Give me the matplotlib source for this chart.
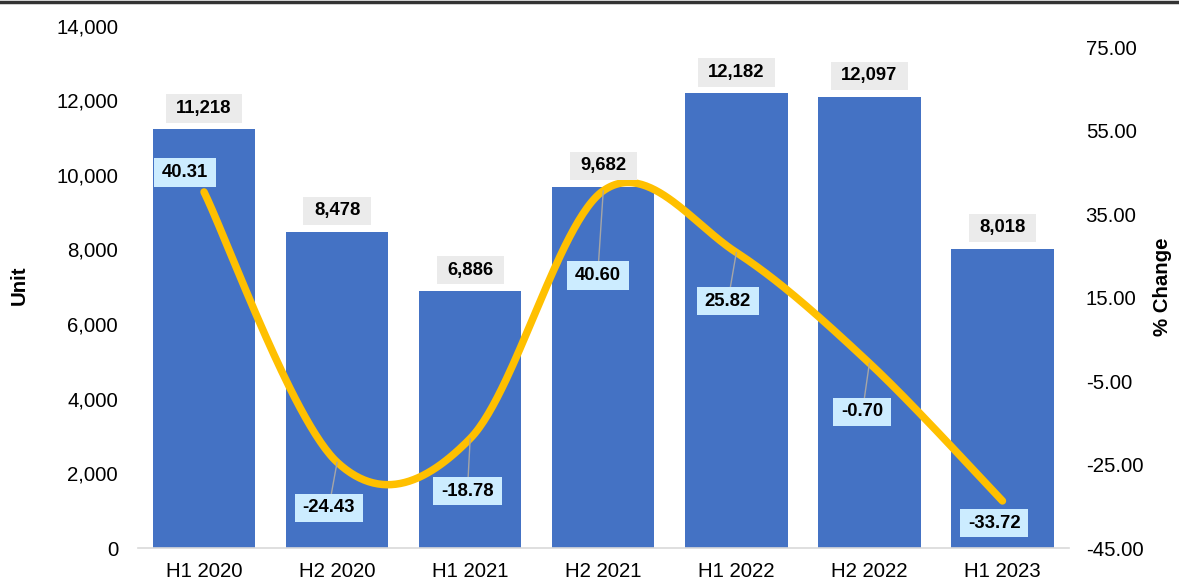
import matplotlib
matplotlib.use("Agg")
import matplotlib.pyplot as plt
import numpy as np
from matplotlib.ticker import FuncFormatter, FixedLocator
from matplotlib.lines import Line2D
from matplotlib.path import Path

periods = ["H1 2020", "H2 2020", "H1 2021", "H2 2021", "H1 2022", "H2 2022", "H1 2023"]
units = [11218, 8478, 6886, 9682, 12182, 12097, 8018]
pct_change = [40.31, -24.43, -18.78, 40.60, 25.82, -0.70, -33.72]
unit_ticks = [0, 2000, 4000, 6000, 8000, 10000, 12000, 14000]
pct_ticks = [-45, -25, -5, 15, 35, 55, 75]

# label offsets (points) and whether a leader line is drawn
pct_offsets = [(-14, 14), (-6, -33), (-2, -38), (-4, -61), (-6, -35), (-5, -35), (-6, -16)]
pct_leaders = [False, True, True, True, True, True, False]

plt.rcParams['font.family'] = ['Liberation Sans', 'DejaVu Sans']

TICK_FS = 14.7
LABEL_FS = 13.3


def rect_box(padx, pady):
    """Rectangular label box with separate horizontal and vertical padding."""
    def style(x0, y0, width, height, mutation_size):
        px, py = padx * mutation_size, pady * mutation_size
        x0, y0 = x0 - px, y0 - py
        x1, y1 = x0 + width + 2 * px, y0 + height + 2 * py
        return Path([(x0, y0), (x1, y0), (x1, y1), (x0, y1), (x0, y0)], closed=True)
    return style


W, H = 1179, 585
fig = plt.figure(figsize=(W / 100, H / 100), dpi=100)
ax = fig.add_axes([137.5 / W, 37 / H, 931.5 / W, 522.5 / H])

x = np.arange(len(periods))
ax.bar(x, units, width=0.77, color='#4472C4', zorder=2)
ax.set_xlim(-0.5, len(periods) - 0.5)
ax.set_ylim(0, 14000)
ax.yaxis.set_major_locator(FixedLocator(unit_ticks))
ax.yaxis.set_major_formatter(FuncFormatter(lambda v, p: f"{v:,.0f}"))
ax.set_xticks(x)
ax.set_xticklabels(periods)
ax.tick_params(axis='both', length=0, labelsize=TICK_FS, colors='black')
ax.tick_params(axis='y', pad=14)
ax.tick_params(axis='x', pad=10)
for s in ['top', 'left', 'right']:
    ax.spines[s].set_visible(False)
ax.spines['bottom'].set_color('#D9D9D9')
ax.spines['bottom'].set_linewidth(1.2)

ax2 = ax.twinx()
ax2.set_ylim(-45, 80.2)
ax2.yaxis.set_major_locator(FixedLocator(pct_ticks))
ax2.yaxis.set_major_formatter(FuncFormatter(lambda v, p: f"{v:.2f}"))
ax2.tick_params(axis='y', length=0, labelsize=TICK_FS, colors='black', pad=12)
for s in ['top', 'left', 'right', 'bottom']:
    ax2.spines[s].set_visible(False)


def catmull_rom(xs, ys, n=60):
    P = np.column_stack([xs, ys]).astype(float)
    P = np.vstack([P[0], P, P[-1]])
    t = np.linspace(0, 1, n)[:, None]
    out = []
    for i in range(1, len(P) - 2):
        p0, p1, p2, p3 = P[i - 1], P[i], P[i + 1], P[i + 2]
        seg = 0.5 * ((2 * p1) + (-p0 + p2) * t
                     + (2 * p0 - 5 * p1 + 4 * p2 - p3) * t ** 2
                     + (-p0 + 3 * p1 - 3 * p2 + p3) * t ** 3)
        out.append(seg if i == 1 else seg[1:])
    return np.vstack(out)


curve = catmull_rom(x, pct_change)
ax2.plot(curve[:, 0], curve[:, 1], color='#FFC000', lw=5.4,
         solid_capstyle='round', zorder=3)

# value labels on bars
for xi, v in zip(x, units):
    ax2.annotate(f"{v:,}", xy=(xi, v), xycoords=ax.transData,
                 xytext=(0, 15), textcoords='offset points',
                 ha='center', va='center', fontsize=LABEL_FS, fontweight='bold',
                 bbox=dict(boxstyle=rect_box(0.57, 0.3), fc='#EBEBEB', ec='none'),
                 zorder=5)

# percentage labels on the line
for xi, v, off, lead in zip(x, pct_change, pct_offsets, pct_leaders):
    arrow = dict(arrowstyle='-', color='#A6A6A6', lw=1, shrinkA=0, shrinkB=0) if lead else None
    ax2.annotate(f"{v:.2f}", xy=(xi, v), xytext=off, textcoords='offset points',
                 ha='center', va='center', fontsize=LABEL_FS, fontweight='bold',
                 bbox=dict(boxstyle=rect_box(0.43, 0.3), fc='#CCECFF', ec='none'),
                 arrowprops=arrow, zorder=6)

fig.text(19.5 / W, 1 - 285 / H, "Unit", rotation=90, ha='center', va='center',
         fontsize=TICK_FS, fontweight='bold')
fig.text(1163 / W, 1 - 287 / H, "% Change", rotation=90, ha='center', va='center',
         fontsize=TICK_FS, fontweight='bold')

fig.add_artist(Line2D([0, 1], [1 - 1.5 / H, 1 - 1.5 / H], transform=fig.transFigure,
                      color='#333333', lw=2.5))

fig.savefig("out.png", dpi=100)
